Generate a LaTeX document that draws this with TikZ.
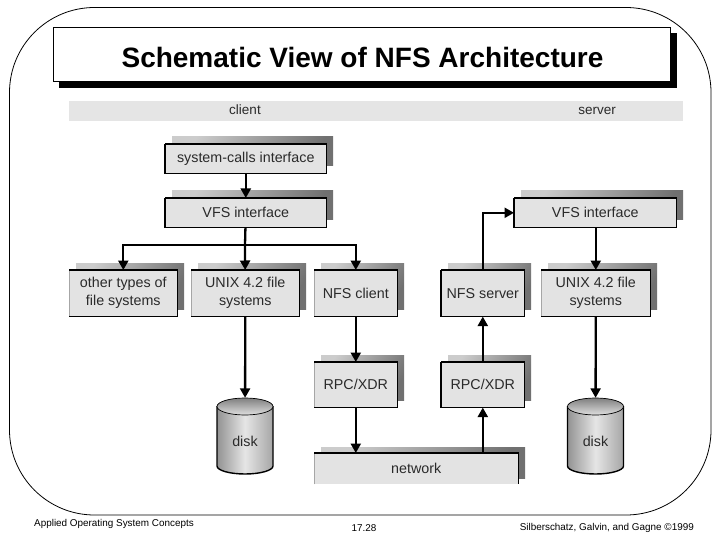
\documentclass[tikz,border=0pt]{standalone}
\usepackage{fontspec}
\setmainfont{Liberation Sans}
\definecolor{bandgray}{HTML}{E5E5E5}
\definecolor{boxgray}{HTML}{E3E3E3}
\definecolor{inkgray}{HTML}{2A2A2A}
\definecolor{shadelight}{HTML}{CCCCCC}
\definecolor{shadedark}{HTML}{707070}
\usetikzlibrary{arrows.meta}
\tikzset{
  x=1pt,y=-1pt,
  boxnode/.style={draw=gray!70,line width=0.6pt,fill=boxgray,inner sep=0pt,align=center,
    font=\fontsize{14.3}{18}\selectfont,text=inkgray},
  shadenode/.style={inner sep=0pt,outer sep=0pt,draw=none,
    shading=axis,left color=shadelight,right color=shadedark,shading angle=60},
  flow/.style={line width=2.3pt,-{Triangle[length=9.5pt,width=10pt]}},
  wire/.style={line width=2.3pt},
  rim/.style={draw=black,line width=1.4pt,line cap=butt},
  foot/.style={font=\fontsize{9.9}{12}\selectfont,inner sep=0pt,text=black},
  disklabel/.style={font=\fontsize{14.3}{16}\selectfont,text=inkgray,inner sep=0pt},
  diskghost/.style={inner sep=0pt,minimum width=56pt,minimum height=76pt},
  bandlabel/.style={font=\fontsize{13.5}{16}\selectfont,text=inkgray,inner sep=0pt,anchor=base},
}
\newcommand{\blockat}[6]{% name, x0, y0, x1, y1, text
  \pgfmathsetmacro{\bw}{#4-#2}\pgfmathsetmacro{\bh}{#5-#3}
  \node[shadenode,minimum width=\bw pt,minimum height=\bh pt,anchor=north west] (#1s) at (#2+7,#3-7) {};
  \node[boxnode,minimum width=\bw pt,minimum height=\bh pt,anchor=north west] (#1) at (#2,#3) {#6};
  \draw[rim] (#1.north west) -- (#1.north east) -- (#1.south east) -- (#1.south west);
}
\newcommand{\drumat}[2]{% name, cx
  \shade[left color=gray!85,right color=gray!70,middle color=white!90!black]
    (#2-28,406) -- (#2-28,466) arc[start angle=180,end angle=0,x radius=28,y radius=8]
    -- (#2+28,406) arc[start angle=0,end angle=-180,x radius=28,y radius=8] -- cycle;
  \draw[black,line width=1.4pt] (#2-28,406) -- (#2-28,466) arc[start angle=180,end angle=0,x radius=28,y radius=8] -- (#2+28,406);
  \shade[top color=gray!100,bottom color=gray!25,draw=black,line width=0.7pt]
    (#2,406.5) ellipse[x radius=28,y radius=8.5];
  \node[diskghost] (#1) at (#2,436) {};
  \node[disklabel] (#1t) at (#2,441) {disk};
}
\begin{document}
\begin{tikzpicture}
\useasboundingbox (0,0) rectangle (720,540);
\fill[white] (0,0) rectangle (720,540);
% outer rounded frame
\draw[black,line width=0.8pt,rounded corners=85pt] (9.5,7.5) rectangle (711,515);
% title
\fill[black] (59,33) rectangle (677,88);
\node[draw=black,fill=white,line width=0.8pt,inner sep=0pt,minimum width=617pt,minimum height=54pt,anchor=north west] (title) at (53,27) {};
\node[font=\fontsize{28}{32}\bfseries\selectfont,inner sep=0pt] (titletext) at (362.5,57) {Schematic View of NFS Architecture};
% band
\node[fill=bandgray,inner sep=0pt,minimum width=614pt,minimum height=20pt,anchor=north west] (band) at (69,101) {};
\node[bandlabel] (clientlbl) at (245,115) {client};
\node[bandlabel] (serverlbl) at (597,115) {server};
% boxes
\blockat{sys}{165}{144}{326}{173}{system-calls interface}
\blockat{vfsc}{165}{198}{326}{227}{VFS interface}
\blockat{vfss}{514}{198}{676}{227}{VFS interface}
\blockat{other}{69}{270}{177}{316}{other types of\\file systems}
\blockat{unixc}{191}{270}{299}{316}{UNIX 4.2 file\\systems}
\blockat{nfsc}{314}{270}{397}{316}{NFS client}
\blockat{nfss}{441}{270}{524}{316}{NFS server}
\blockat{unixs}{541}{270}{650}{316}{UNIX 4.2 file\\systems}
\blockat{rpcc}{314}{362}{397}{407}{RPC/XDR}
\blockat{rpcs}{441}{362}{524}{407}{RPC/XDR}
\foreach \nm in {sys,vfsc,vfss,nfss,rpcs}{\draw[rim] (\nm.north west) -- (\nm.south west);}
% network: cut off at the bottom
\node[shadenode,minimum width=204pt,minimum height=31pt,anchor=north west] (nets) at (321,447) {};
\node[fill=boxgray,inner sep=0pt,minimum width=204pt,minimum height=31pt,anchor=north west,
  font=\fontsize{14.3}{16}\selectfont,text=inkgray] (net) at (314,453) {network};
\draw[gray!70,line width=0.6pt] (net.south west) -- (net.north west);
\draw[rim] (net.north west) -- (net.north east) -- (net.south east);
% disks
\drumat{diskc}{245}
\drumat{disks}{595.5}
% connectors
\draw[flow] (sys) -- (vfsc);
\coordinate (bus) at (245,245);
\draw[wire] (vfsc) -- (bus);
\draw[flow] (bus) -- (unixc);
\draw[flow] (bus) -| (other);
\draw[flow] (bus) -| (nfsc);
\draw[flow] (nfsc) -- (rpcc);
\draw[flow] (rpcc) -- (net.north -| rpcc);
\draw[flow] (net.north -| rpcs) -- (rpcs);
\draw[flow] (rpcs) -- (nfss);
\draw[flow] (nfss.north) |- (vfss.west);
\draw[flow] (vfss.south -| unixs) -- (unixs);
\draw[flow] (unixc) -- (diskc);
\draw[flow] (unixs) -- (disks);
% footer
\node[foot,anchor=west] (fl) at (34,524) {Applied Operating System Concepts};
\node[foot,anchor=center] (fc) at (364,528) {17.28};
\node[foot,anchor=east] (fr) at (694,528) {Silberschatz, Galvin, and Gagne ©1999};
\end{tikzpicture}
\end{document}
